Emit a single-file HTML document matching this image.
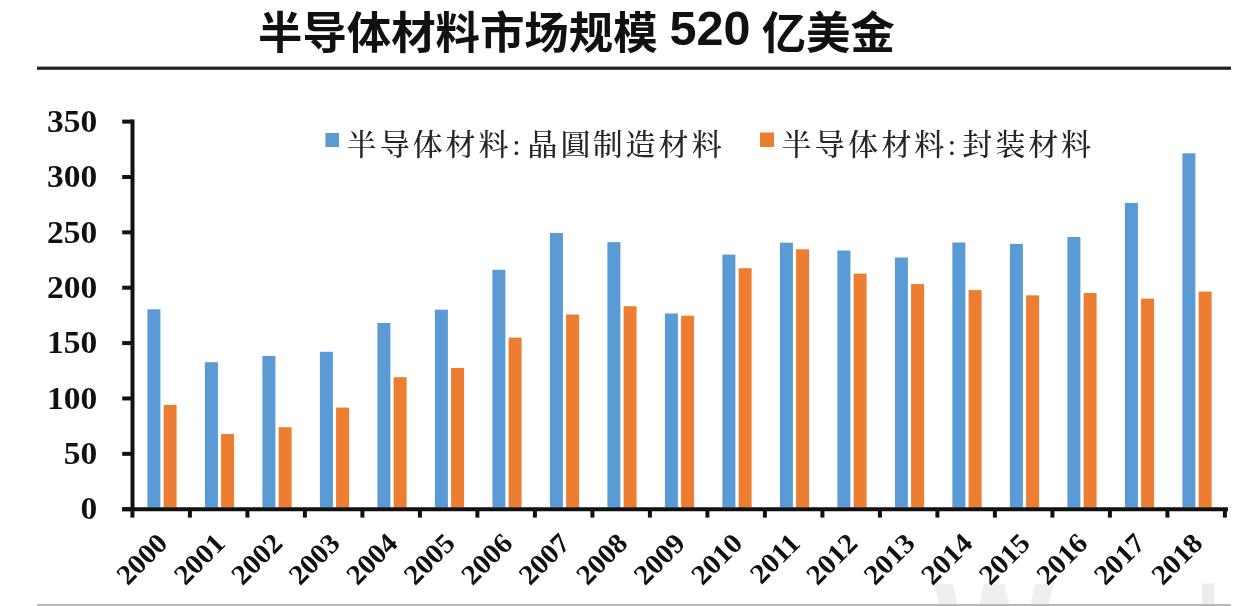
<!DOCTYPE html>
<html><head><meta charset="utf-8">
<style>
html,body{margin:0;padding:0;background:#fff;}
body{width:1242px;height:606px;overflow:hidden;position:relative;}
svg{position:absolute;left:0;top:0;}
.title{font-family:"Liberation Sans","Noto Sans CJK SC",sans-serif;font-weight:bold;font-size:44.4px;fill:#111;}
.num{font-size:48.5px;}
.lg{font-family:"Liberation Serif","Noto Serif CJK SC",serif;font-size:30px;font-weight:500;fill:#262626;text-anchor:middle;}
.yl{font-family:"Liberation Serif",serif;font-weight:bold;font-size:31px;fill:#111;text-anchor:end;}
.xl{font-family:"Liberation Serif",serif;font-weight:bold;font-size:28px;fill:#111;text-anchor:end;}
.wm{font-family:"Liberation Sans",sans-serif;font-weight:bold;font-size:127px;fill:#efefef;}
</style></head>
<body>
<svg width="1242" height="606" viewBox="0 0 1242 606">
<text class="title" y="48.7"><tspan x="258">半导体材料市场规模</tspan><tspan class="num" x="656" y="45.2"> 520</tspan><tspan x="749.4" y="48.7"> 亿美金</tspan></text>
<rect x="37" y="66.6" width="1194" height="3.2" fill="#222"/>
<text class="wm" x="934" y="671">W</text>
<rect x="1202" y="583.5" width="12.5" height="22" fill="#ececec"/>
<g class="yl" transform="translate(97.3,0) scale(1.08,1)">
<text x="0" y="519.2">0</text>
<text x="0" y="463.9">50</text>
<text x="0" y="408.6">100</text>
<text x="0" y="353.3">150</text>
<text x="0" y="298.0">200</text>
<text x="0" y="242.7">250</text>
<text x="0" y="187.4">300</text>
<text x="0" y="132.1">350</text>
</g>
<rect x="147.4" y="309.3" width="13" height="198.2" fill="#5b9bd5"/>
<rect x="163.6" y="404.9" width="13" height="102.6" fill="#ed7d31"/>
<rect x="204.9" y="362.2" width="13" height="145.3" fill="#5b9bd5"/>
<rect x="221.1" y="434.0" width="13" height="73.5" fill="#ed7d31"/>
<rect x="262.4" y="355.9" width="13" height="151.6" fill="#5b9bd5"/>
<rect x="278.6" y="427.2" width="13" height="80.3" fill="#ed7d31"/>
<rect x="319.9" y="351.8" width="13" height="155.7" fill="#5b9bd5"/>
<rect x="336.1" y="407.6" width="13" height="99.9" fill="#ed7d31"/>
<rect x="377.4" y="323.0" width="13" height="184.5" fill="#5b9bd5"/>
<rect x="393.6" y="377.2" width="13" height="130.3" fill="#ed7d31"/>
<rect x="434.9" y="309.7" width="13" height="197.8" fill="#5b9bd5"/>
<rect x="451.1" y="368.0" width="13" height="139.5" fill="#ed7d31"/>
<rect x="492.4" y="269.8" width="13" height="237.7" fill="#5b9bd5"/>
<rect x="508.6" y="337.6" width="13" height="169.9" fill="#ed7d31"/>
<rect x="549.9" y="232.9" width="13" height="274.6" fill="#5b9bd5"/>
<rect x="566.1" y="314.5" width="13" height="193.0" fill="#ed7d31"/>
<rect x="607.4" y="242.1" width="13" height="265.4" fill="#5b9bd5"/>
<rect x="623.6" y="306.2" width="13" height="201.3" fill="#ed7d31"/>
<rect x="664.9" y="313.5" width="13" height="194.0" fill="#5b9bd5"/>
<rect x="681.1" y="315.7" width="13" height="191.8" fill="#ed7d31"/>
<rect x="722.4" y="254.6" width="13" height="252.9" fill="#5b9bd5"/>
<rect x="738.6" y="268.2" width="13" height="239.3" fill="#ed7d31"/>
<rect x="779.9" y="242.7" width="13" height="264.8" fill="#5b9bd5"/>
<rect x="796.1" y="249.3" width="13" height="258.2" fill="#ed7d31"/>
<rect x="837.4" y="250.5" width="13" height="257.0" fill="#5b9bd5"/>
<rect x="853.6" y="273.6" width="13" height="233.9" fill="#ed7d31"/>
<rect x="894.9" y="257.5" width="13" height="250.0" fill="#5b9bd5"/>
<rect x="911.1" y="284.1" width="13" height="223.4" fill="#ed7d31"/>
<rect x="952.4" y="242.5" width="13" height="265.0" fill="#5b9bd5"/>
<rect x="968.6" y="290.1" width="13" height="217.4" fill="#ed7d31"/>
<rect x="1009.9" y="243.9" width="13" height="263.6" fill="#5b9bd5"/>
<rect x="1026.1" y="295.3" width="13" height="212.2" fill="#ed7d31"/>
<rect x="1067.4" y="237.0" width="13" height="270.5" fill="#5b9bd5"/>
<rect x="1083.6" y="293.0" width="13" height="214.5" fill="#ed7d31"/>
<rect x="1124.9" y="202.9" width="13" height="304.6" fill="#5b9bd5"/>
<rect x="1141.1" y="298.6" width="13" height="208.9" fill="#ed7d31"/>
<rect x="1182.4" y="153.3" width="13" height="354.2" fill="#5b9bd5"/>
<rect x="1198.6" y="291.6" width="13" height="215.9" fill="#ed7d31"/>
<g stroke="#111" stroke-width="4">
<line x1="132.5" y1="119.6" x2="132.5" y2="511"/>
<line x1="122.2" y1="509.20" x2="132.5" y2="509.20"/>
<line x1="122.2" y1="453.83" x2="132.5" y2="453.83"/>
<line x1="122.2" y1="398.46" x2="132.5" y2="398.46"/>
<line x1="122.2" y1="343.09" x2="132.5" y2="343.09"/>
<line x1="122.2" y1="287.72" x2="132.5" y2="287.72"/>
<line x1="122.2" y1="232.35" x2="132.5" y2="232.35"/>
<line x1="122.2" y1="176.98" x2="132.5" y2="176.98"/>
<line x1="122.2" y1="121.61" x2="132.5" y2="121.61"/>
<line x1="122.2" y1="509.2" x2="1228" y2="509.2"/>
<line x1="132.4" y1="509" x2="132.4" y2="517.6"/>
<line x1="189.9" y1="509" x2="189.9" y2="517.6"/>
<line x1="247.4" y1="509" x2="247.4" y2="517.6"/>
<line x1="304.9" y1="509" x2="304.9" y2="517.6"/>
<line x1="362.4" y1="509" x2="362.4" y2="517.6"/>
<line x1="419.9" y1="509" x2="419.9" y2="517.6"/>
<line x1="477.4" y1="509" x2="477.4" y2="517.6"/>
<line x1="534.9" y1="509" x2="534.9" y2="517.6"/>
<line x1="592.4" y1="509" x2="592.4" y2="517.6"/>
<line x1="649.9" y1="509" x2="649.9" y2="517.6"/>
<line x1="707.4" y1="509" x2="707.4" y2="517.6"/>
<line x1="764.9" y1="509" x2="764.9" y2="517.6"/>
<line x1="822.4" y1="509" x2="822.4" y2="517.6"/>
<line x1="879.9" y1="509" x2="879.9" y2="517.6"/>
<line x1="937.4" y1="509" x2="937.4" y2="517.6"/>
<line x1="994.9" y1="509" x2="994.9" y2="517.6"/>
<line x1="1052.4" y1="509" x2="1052.4" y2="517.6"/>
<line x1="1109.9" y1="509" x2="1109.9" y2="517.6"/>
<line x1="1167.4" y1="509" x2="1167.4" y2="517.6"/>
<line x1="1224.9" y1="509" x2="1224.9" y2="517.6"/>
</g>
<g class="xl">
<text transform="translate(169.2,544.8) rotate(-45) scale(1.05,1)" x="0" y="0">2000</text>
<text transform="translate(226.7,544.8) rotate(-45) scale(1.05,1)" x="0" y="0">2001</text>
<text transform="translate(284.1,544.8) rotate(-45) scale(1.05,1)" x="0" y="0">2002</text>
<text transform="translate(341.6,544.8) rotate(-45) scale(1.05,1)" x="0" y="0">2003</text>
<text transform="translate(399.1,544.8) rotate(-45) scale(1.05,1)" x="0" y="0">2004</text>
<text transform="translate(456.6,544.8) rotate(-45) scale(1.05,1)" x="0" y="0">2005</text>
<text transform="translate(514.1,544.8) rotate(-45) scale(1.05,1)" x="0" y="0">2006</text>
<text transform="translate(571.6,544.8) rotate(-45) scale(1.05,1)" x="0" y="0">2007</text>
<text transform="translate(629.1,544.8) rotate(-45) scale(1.05,1)" x="0" y="0">2008</text>
<text transform="translate(686.6,544.8) rotate(-45) scale(1.05,1)" x="0" y="0">2009</text>
<text transform="translate(744.1,544.8) rotate(-45) scale(1.05,1)" x="0" y="0">2010</text>
<text transform="translate(801.6,544.8) rotate(-45) scale(1.05,1)" x="0" y="0">2011</text>
<text transform="translate(859.1,544.8) rotate(-45) scale(1.05,1)" x="0" y="0">2012</text>
<text transform="translate(916.6,544.8) rotate(-45) scale(1.05,1)" x="0" y="0">2013</text>
<text transform="translate(974.1,544.8) rotate(-45) scale(1.05,1)" x="0" y="0">2014</text>
<text transform="translate(1031.7,544.8) rotate(-45) scale(1.05,1)" x="0" y="0">2015</text>
<text transform="translate(1089.2,544.8) rotate(-45) scale(1.05,1)" x="0" y="0">2016</text>
<text transform="translate(1146.7,544.8) rotate(-45) scale(1.05,1)" x="0" y="0">2017</text>
<text transform="translate(1204.2,544.8) rotate(-45) scale(1.05,1)" x="0" y="0">2018</text>
</g>
<rect x="325.5" y="133" width="13.5" height="14" fill="#5b9bd5"/>
<text class="lg" x="361.4 394.7 427.4 460.6 493.5 516.5 542.5 575.6 607.8 640.4 673.5 706.8" y="155">半导体材料:晶圓制造材料</text>
<rect x="760" y="132.5" width="14" height="14.5" fill="#ed7d31"/>
<text class="lg" x="796.6 829.7 863.0 896.5 929.3 951.8 977.2 1010.4 1043.2 1076.0" y="155">半导体材料:封装材料</text>
<rect x="37" y="604" width="1194" height="2" fill="#b8b8b8"/>
</svg>
</body></html>
